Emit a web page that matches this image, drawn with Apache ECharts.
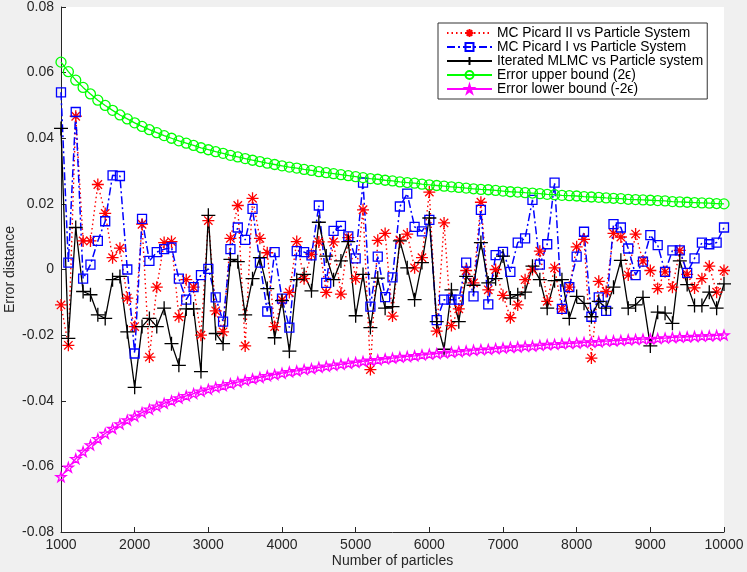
<!DOCTYPE html>
<html>
<head>
<meta charset="utf-8">
<script src="https://cdn.jsdelivr.net/npm/echarts@6/dist/echarts.min.js"></script>
<style>
  html, body { margin: 0; padding: 0; background: #f0f0f0; }
  #chart { width: 747px; height: 572px; }
</style>
</head>
<body>
<div id="chart"></div>
<script>
// number of particles (x values)
const particles = [
  1000, 1100, 1200, 1300, 1400, 1500, 1600, 1700, 1800, 1900,
  2000, 2100, 2200, 2300, 2400, 2500, 2600, 2700, 2800, 2900,
  3000, 3100, 3200, 3300, 3400, 3500, 3600, 3700, 3800, 3900,
  4000, 4100, 4200, 4300, 4400, 4500, 4600, 4700, 4800, 4900,
  5000, 5100, 5200, 5300, 5400, 5500, 5600, 5700, 5800, 5900,
  6000, 6100, 6200, 6300, 6400, 6500, 6600, 6700, 6800, 6900,
  7000, 7100, 7200, 7300, 7400, 7500, 7600, 7700, 7800, 7900,
  8000, 8100, 8200, 8300, 8400, 8500, 8600, 8700, 8800, 8900,
  9000, 9100, 9200, 9300, 9400, 9500, 9600, 9700, 9800, 9900,
  10000
]

// MC Picard II vs Particle System
const picard2 = [
  -0.0108, -0.0231, 0.0467, 0.0087, 0.0087, 0.0259, 0.0171, 0.0036, 0.0065, -0.0087,
  -0.0174, 0.0138, -0.0267, -0.0054, 0.0082, 0.0085, -0.0144, -0.0031, -0.0054, -0.0200,
  0.0149, -0.0126, -0.0190, 0.0095, 0.0195, -0.0233, 0.0217, 0.0095, 0.0051, -0.0174,
  -0.0093, -0.0070, 0.0085, -0.0028, 0.0046, 0.0084, -0.0070, 0.0084, -0.0075, 0.0097,
  -0.0028, 0.0182, -0.0305, 0.0089, 0.0110, -0.0142, 0.0090, 0.0108, 0.0005, 0.0036,
  0.0236, -0.0188, 0.0142, -0.0171, -0.0120, -0.0003, -0.0041, 0.0205, -0.0062, 0.0000,
  -0.0079, -0.0147, -0.0108, -0.0031, 0.0000, 0.0056, -0.0097, 0.0005, -0.0120, -0.0054,
  0.0069, 0.0092, -0.0270, -0.0036, -0.0067, 0.0110, 0.0099, -0.0017, 0.0108, 0.0026,
  -0.0003, -0.0058, -0.0007, -0.0054, 0.0058, -0.0015, -0.0056, -0.0028, 0.0010, -0.0069,
  -0.0003
]

// MC Picard I vs Particle System
const picard1 = [
  0.0540, 0.0021, 0.0480, -0.0028, 0.0015, 0.0087, 0.0147, 0.0287, 0.0285, 0.0000,
  -0.0256, 0.0154, 0.0026, 0.0053, 0.0062, 0.0067, -0.0028, -0.0092, -0.0054, -0.0017,
  0.0002, -0.0085, -0.0159, 0.0062, 0.0128, 0.0090, 0.0185, 0.0021, -0.0128, 0.0053,
  -0.0089, -0.0177, 0.0056, 0.0053, 0.0043, 0.0195, -0.0041, 0.0118, 0.0133, 0.0101,
  0.0034, 0.0265, -0.0113, 0.0039, -0.0084, -0.0024, 0.0192, 0.0231, 0.0130, 0.0116,
  0.0151, -0.0154, -0.0092, -0.0092, -0.0092, 0.0021, -0.0082, 0.0182, -0.0106, 0.0044,
  0.0054, -0.0007, 0.0082, 0.0095, 0.0212, 0.0015, 0.0077, 0.0265, -0.0120, -0.0054,
  0.0039, 0.0115, -0.0144, -0.0085, -0.0126, 0.0138, 0.0128, 0.0064, -0.0017, 0.0024,
  0.0105, 0.0074, -0.0007, 0.0058, 0.0058, -0.0010, 0.0034, 0.0082, 0.0077, 0.0082,
  0.0128
]

// Iterated MLMC vs Particle system
const mlmc = [
  0.0430, -0.0210, 0.0128, -0.0067, -0.0077, -0.0138, -0.0149, -0.0031, -0.0021, -0.0190,
  -0.0359, -0.0174, -0.0149, -0.0174, -0.0118, -0.0226, -0.0292, -0.0120, -0.0120, -0.0311,
  0.0165, -0.0195, -0.0226, 0.0031, 0.0024, -0.0138, -0.0028, 0.0036, -0.0058, -0.0208,
  -0.0095, -0.0249, -0.0031, -0.0015, -0.0065, 0.0144, 0.0041, -0.0031, 0.0026, 0.0085,
  -0.0141, -0.0015, -0.0177, -0.0026, -0.0118, -0.0113, 0.0087, 0.0005, -0.0092, 0.0021,
  0.0157, -0.0159, -0.0243, -0.0062, -0.0159, -0.0021, -0.0048, 0.0082, -0.0041, -0.0028,
  0.0041, -0.0087, -0.0077, -0.0069, 0.0010, -0.0031, -0.0118, -0.0034, -0.0031, -0.0149,
  -0.0082, -0.0103, -0.0144, -0.0097, -0.0118, -0.0054, 0.0028, -0.0118, -0.0108, -0.0085,
  -0.0233, -0.0130, -0.0133, -0.0164, 0.0026, -0.0046, -0.0110, -0.0110, -0.0069, -0.0118,
  -0.0044
]

// Error upper bound (2ϵ)
const upperBound = [
  0.0632, 0.0603, 0.0577, 0.0555, 0.0535, 0.0516, 0.0500, 0.0485, 0.0471, 0.0459,
  0.0447, 0.0436, 0.0426, 0.0417, 0.0408, 0.0400, 0.0392, 0.0385, 0.0378, 0.0371,
  0.0365, 0.0359, 0.0354, 0.0348, 0.0343, 0.0338, 0.0333, 0.0329, 0.0324, 0.0320,
  0.0316, 0.0312, 0.0309, 0.0305, 0.0302, 0.0298, 0.0295, 0.0292, 0.0289, 0.0286,
  0.0283, 0.0280, 0.0277, 0.0275, 0.0272, 0.0270, 0.0267, 0.0265, 0.0263, 0.0260,
  0.0258, 0.0256, 0.0254, 0.0252, 0.0250, 0.0248, 0.0246, 0.0244, 0.0243, 0.0241,
  0.0239, 0.0237, 0.0236, 0.0234, 0.0233, 0.0231, 0.0229, 0.0228, 0.0226, 0.0225,
  0.0224, 0.0222, 0.0221, 0.0220, 0.0218, 0.0217, 0.0216, 0.0214, 0.0213, 0.0212,
  0.0211, 0.0210, 0.0209, 0.0207, 0.0206, 0.0205, 0.0204, 0.0203, 0.0202, 0.0201,
  0.0200
]

// Error lower bound (-2ϵ)
const lowerBound = [
  -0.0632, -0.0603, -0.0577, -0.0555, -0.0535, -0.0516, -0.0500, -0.0485, -0.0471, -0.0459,
  -0.0447, -0.0436, -0.0426, -0.0417, -0.0408, -0.0400, -0.0392, -0.0385, -0.0378, -0.0371,
  -0.0365, -0.0359, -0.0354, -0.0348, -0.0343, -0.0338, -0.0333, -0.0329, -0.0324, -0.0320,
  -0.0316, -0.0312, -0.0309, -0.0305, -0.0302, -0.0298, -0.0295, -0.0292, -0.0289, -0.0286,
  -0.0283, -0.0280, -0.0277, -0.0275, -0.0272, -0.0270, -0.0267, -0.0265, -0.0263, -0.0260,
  -0.0258, -0.0256, -0.0254, -0.0252, -0.0250, -0.0248, -0.0246, -0.0244, -0.0243, -0.0241,
  -0.0239, -0.0237, -0.0236, -0.0234, -0.0233, -0.0231, -0.0229, -0.0228, -0.0226, -0.0225,
  -0.0224, -0.0222, -0.0221, -0.0220, -0.0218, -0.0217, -0.0216, -0.0214, -0.0213, -0.0212,
  -0.0211, -0.0210, -0.0209, -0.0207, -0.0206, -0.0205, -0.0204, -0.0203, -0.0202, -0.0201,
  -0.0200
]

const xTicks = { min: 1000, max: 10000, interval: 1000 }
const yTicks = { min: -0.08, max: 0.08, interval: 0.02 }

// marker shapes (matlab style)
const asterisk = 'path://M0,10L20,10M10,0L10,20M3,3L17,17M17,3L3,17'
const plus = 'path://M0,10L20,10M10,0L10,20'
const star = 'path://M10,0L12.25,6.91L19.51,6.91L13.63,11.18L15.88,18.09L10,13.82L4.12,18.09L6.37,11.18L0.49,6.91L7.75,6.91Z'

const pairs = (ys) => particles.map((x, i) => [x, ys[i]])
const font = '"Liberation Sans", Arial, sans-serif'
const axisColor = '#262626'

function lineSeries(name, ys, color, lineType, lineWidth, symbol, size, filled) {
    return {
        name: name,
        type: 'line',
        data: pairs(ys),
        symbol: symbol,
        symbolSize: size,
        symbolKeepAspect: true,
        showAllSymbol: true,
        lineStyle: { color: color, width: lineWidth, type: lineType },
        itemStyle: {
            color: filled ? color : 'rgba(0,0,0,0)',
            borderColor: color,
            borderWidth: 1.3
        },
        emphasis: { disabled: true },
        z: 2
    }
}

const chart = echarts.init(document.getElementById('chart'), null, { renderer: 'canvas' })
chart.setOption({
    animation: false,
    backgroundColor: '#f0f0f0',
    textStyle: { fontFamily: font },
    grid: {
        left: 61, right: 23, top: 7, bottom: 40,
        outerBoundsMode: 'none',
        containLabel: false,
        show: true, backgroundColor: '#ffffff', borderWidth: 0
    },
    legend: {
        left: 438, top: 23,
        orient: 'vertical',
        itemWidth: 45, itemHeight: 10, itemGap: 0,
        padding: [3, 4, 3, 8],
        borderColor: '#333', borderWidth: 1,
        backgroundColor: '#ffffff',
        textStyle: { fontSize: 13.8, color: '#000', lineHeight: 12.6, fontFamily: font },
        data: [
            'MC Picard II vs Particle System',
            'MC Picard I vs Particle System',
            'Iterated MLMC vs Particle system',
            'Error upper bound (2ϵ)',
            'Error lower bound (-2ϵ)'
        ]
    },
    xAxis: {
        type: 'value',
        min: xTicks.min, max: xTicks.max, interval: xTicks.interval,
        name: 'Number of particles',
        nameLocation: 'middle', nameGap: 22,
        nameMoveOverlap: false,
        nameTextStyle: { fontSize: 14, color: axisColor },
        axisLine: { onZero: false, lineStyle: { color: axisColor, width: 1 } },
        axisTick: { inside: true, length: 5, lineStyle: { color: axisColor } },
        axisLabel: { fontSize: 14, color: axisColor, margin: 6, formatter: (v) => String(v) },
        splitLine: { show: false }
    },
    yAxis: {
        type: 'value',
        min: yTicks.min, max: yTicks.max, interval: yTicks.interval,
        name: 'Error distance',
        nameLocation: 'middle', nameGap: 44,
        nameMoveOverlap: false,
        nameTextStyle: { fontSize: 14, color: axisColor },
        axisLine: { show: true, onZero: false, lineStyle: { color: axisColor, width: 1 } },
        axisTick: { show: true, inside: true, length: 5, lineStyle: { color: axisColor } },
        axisLabel: { fontSize: 14, color: axisColor, margin: 7 },
        splitLine: { show: false }
    },
    series: [
        lineSeries('MC Picard II vs Particle System', picard2, '#ff0000', [1.5, 3], 1.4, asterisk, 12, true),
        lineSeries('MC Picard I vs Particle System', picard1, '#0000ff', [8, 3, 2, 3], 1.5, 'rect', 9, false),
        lineSeries('Iterated MLMC vs Particle system', mlmc, '#000000', 'solid', 1.3, plus, 14, true),
        lineSeries('Error upper bound (2ϵ)', upperBound, '#00ff00', 'solid', 1.3, 'circle', 10, false),
        lineSeries('Error lower bound (-2ϵ)', lowerBound, '#ff00ff', 'solid', 1.3, star, 10, false)
    ]
})
</script>
</body>
</html>
